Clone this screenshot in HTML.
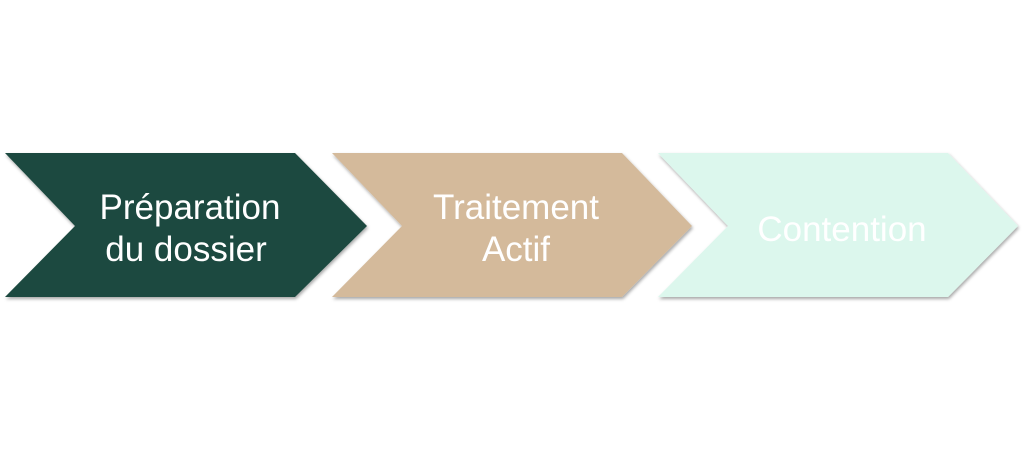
<!DOCTYPE html>
<html><head><style>
html,body{margin:0;padding:0;background:#fff;}
svg{display:block;}
text{font-family:"Liberation Sans","DejaVu Sans",sans-serif;font-size:35px;fill:#fff;text-anchor:middle;}
</style></head><body>
<svg width="1024" height="452" viewBox="0 0 1024 452">
<defs><filter id="s" x="-5%" y="-5%" width="110%" height="115%"><feDropShadow dx="1" dy="2" stdDeviation="1.5" flood-color="#000" flood-opacity="0.35"/></filter></defs>
<polygon filter="url(#s)" points="5,153 295,153 367,226 295,297 5,297 75,226" fill="#1c4a40"/>
<polygon filter="url(#s)" points="332,153 622,153 692,226 622,297 332,297 402,226" fill="#d4ba9b"/>
<polygon filter="url(#s)" points="658,153 948,153 1018,226 948,297 658,297 728,226" fill="#dcf7ed"/>
<text x="190" y="219">Préparation</text>
<text x="186" y="261">du dossier</text>
<text x="516" y="219">Traitement</text>
<text x="516" y="261">Actif</text>
<text x="842" y="241">Contention</text>
</svg>
</body></html>
